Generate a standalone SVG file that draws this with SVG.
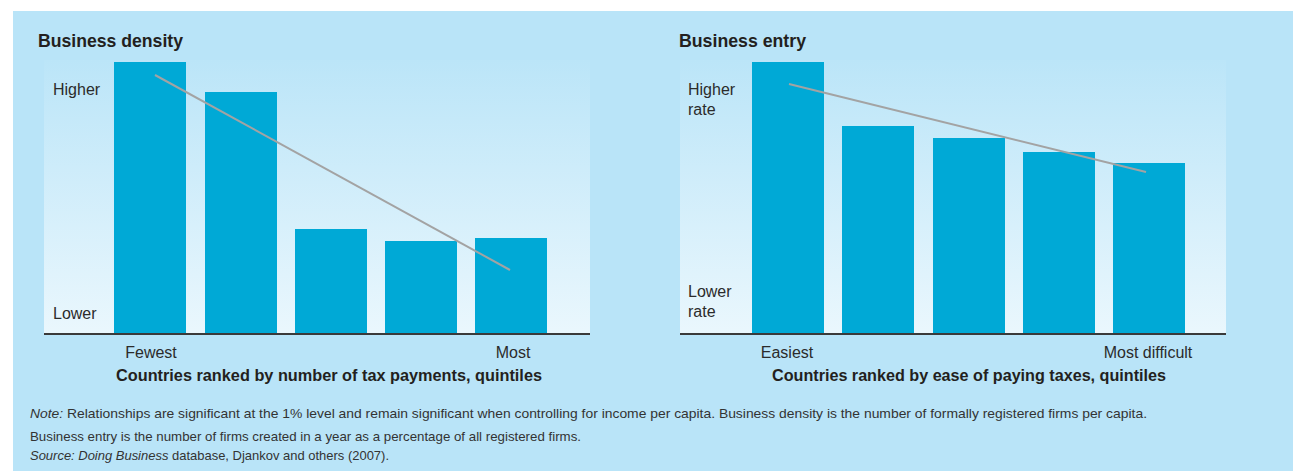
<svg xmlns="http://www.w3.org/2000/svg" width="1293" height="471" viewBox="0 0 1293 471">
<defs>
<linearGradient id="plotbg" x1="0" y1="0" x2="0" y2="1">
<stop offset="0" stop-color="#bbe5f8"/>
<stop offset="1" stop-color="#eaf7fd"/>
</linearGradient>
<style>
.bar{fill:#00a9d6}
.axis{stroke:#3a3a3a;stroke-width:2}
.trend{stroke:#a3a3a3;stroke-width:2;fill:none}
.title{font-family:"Liberation Sans",Arial,sans-serif;font-weight:bold;font-size:19px;fill:#231f20}
.lbl{font-family:"Liberation Sans",Arial,sans-serif;font-size:16px;fill:#2b2b2b}
.xt{font-family:"Liberation Sans",Arial,sans-serif;font-weight:bold;font-size:16px;fill:#231f20}
.note{font-family:"Liberation Sans",Arial,sans-serif;font-size:13.5px;fill:#333}
</style>
</defs>
<rect x="0" y="0" width="1293" height="471" fill="#ffffff"/>
<rect x="13" y="11" width="1280" height="460" fill="#b9e4f8"/>

<g id="panel-density">
<text class="title" x="38" y="47" textLength="145" lengthAdjust="spacingAndGlyphs">Business density</text>
<rect x="44" y="60" width="546" height="274" fill="url(#plotbg)"/>
<g id="density-bars">
<rect class="bar" x="114" y="62" width="72" height="272"/>
<rect class="bar" x="205" y="92" width="72" height="242"/>
<rect class="bar" x="295" y="229" width="72" height="105"/>
<rect class="bar" x="385" y="241" width="72" height="93"/>
<rect class="bar" x="475" y="238" width="72" height="96"/>
</g>
<line class="axis" x1="44" y1="334" x2="590" y2="334"/>
<text class="lbl" x="53" y="95">Higher</text>
<text class="lbl" x="53" y="319">Lower</text>
<text class="lbl" x="151" y="358" text-anchor="middle">Fewest</text>
<text class="lbl" x="513" y="358" text-anchor="middle">Most</text>
<text class="xt" x="116" y="381" textLength="426" lengthAdjust="spacingAndGlyphs">Countries ranked by number of tax payments, quintiles</text>
</g>

<g id="panel-entry">
<text class="title" x="679" y="47" textLength="127" lengthAdjust="spacingAndGlyphs">Business entry</text>
<rect x="680" y="60" width="546" height="274" fill="url(#plotbg)"/>
<g id="entry-bars">
<rect class="bar" x="752" y="62" width="72" height="272"/>
<rect class="bar" x="842" y="126" width="72" height="208"/>
<rect class="bar" x="933" y="138" width="72" height="196"/>
<rect class="bar" x="1023" y="152" width="72" height="182"/>
<rect class="bar" x="1113" y="163" width="72" height="171"/>
</g>
<line class="axis" x1="680" y1="334" x2="1226" y2="334"/>
<text class="lbl" x="688" y="95">Higher</text>
<text class="lbl" x="688" y="115">rate</text>
<text class="lbl" x="688" y="297">Lower</text>
<text class="lbl" x="688" y="317">rate</text>
<text class="lbl" x="787" y="358" text-anchor="middle">Easiest</text>
<text class="lbl" x="1148" y="358" text-anchor="middle">Most difficult</text>
<text class="xt" x="772" y="381" textLength="394" lengthAdjust="spacingAndGlyphs">Countries ranked by ease of paying taxes, quintiles</text>
</g>

<g id="trend-lines">
<line class="trend" x1="155" y1="75" x2="510" y2="270"/>
<line class="trend" x1="789" y1="84" x2="1146" y2="172"/>
</g>

<g id="notes">
<text class="note" x="30" y="418" textLength="1117" lengthAdjust="spacingAndGlyphs"><tspan font-style="italic">Note:</tspan> Relationships are significant at the 1% level and remain significant when controlling for income per capita. Business density is the number of formally registered firms per capita.</text>
<text class="note" x="30" y="441" textLength="551" lengthAdjust="spacingAndGlyphs">Business entry is the number of firms created in a year as a percentage of all registered firms.</text>
<text class="note" x="30" y="460" textLength="359" lengthAdjust="spacingAndGlyphs"><tspan font-style="italic">Source: Doing Business</tspan> database, Djankov and others (2007).</text>
</g>
</svg>
